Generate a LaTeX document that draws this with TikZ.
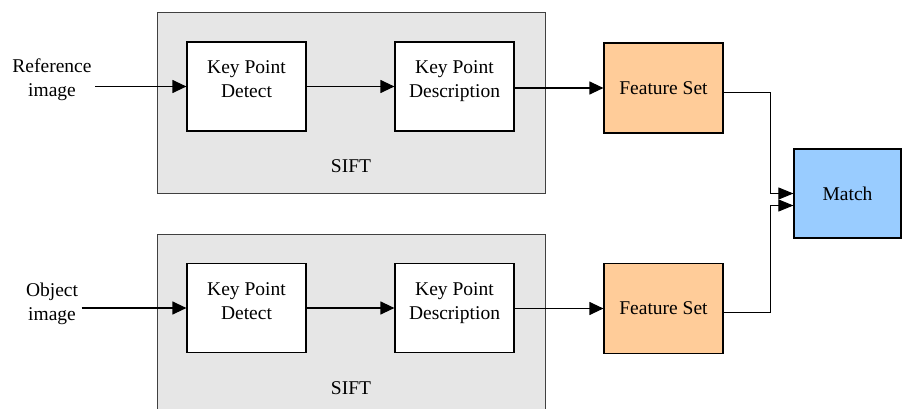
\documentclass[tikz,border=0pt]{standalone}
\usepackage{fontspec}
\setmainfont{Liberation Serif}
\usetikzlibrary{arrows.meta}
\definecolor{siftgray}{HTML}{E6E6E6}
\definecolor{featorange}{HTML}{FFCC99}
\definecolor{matchblue}{HTML}{99CCFF}
\begin{document}
\begin{tikzpicture}[x=1pt, y=-1pt,
    font=\fontsize{19.5}{24}\selectfont,
    siftbox/.style={draw=black!75, fill=siftgray, line width=0.9pt, minimum width=388pt, minimum height=181pt, inner sep=0pt},
    stagebox/.style={draw, fill=white, line width=1.2pt, minimum width=119pt, minimum height=89pt, align=center, text depth=14pt},
    featbox/.style={draw, fill=featorange, line width=1.2pt, minimum width=119pt, minimum height=90pt},
    matchbox/.style={draw, fill=matchblue, line width=1.2pt, minimum width=107pt, minimum height=89pt},
    flow/.style={-{Triangle[length=14pt, width=13pt]}, line width=1.2pt},
    link/.style={-{Triangle[length=15pt, width=12pt]}, line width=0.9pt}]
    \useasboundingbox (0,0) rectangle (902,409);
    % upper branch
    \node[siftbox] (sifta) at (351,102.5) {};
    \node (sifttexta) at (351,166) {SIFT};
    \node[align=center] (refimg) at (52,80) {Reference\\image};
    \node[stagebox] (detecta) at (246.5,86.5) {Key Point\\Detect};
    \node[stagebox] (descra) at (454.5,86.5) {Key Point\\Description};
    \node[featbox] (feata) at (663.5,88) {Feature Set};
    % lower branch
    \node[siftbox] (siftb) at (351.5,324.5) {};
    \node (sifttextb) at (351,388) {SIFT};
    \node[align=center] (objimg) at (52,304) {Object\\image};
    \node[stagebox] (detectb) at (246.5,308) {Key Point\\Detect};
    \node[stagebox] (descrb) at (454.5,308) {Key Point\\Description};
    \node[featbox] (featb) at (663.5,308.5) {Feature Set};
    % matching
    \node[matchbox] (match) at (847.5,193.5) {Match};
    \draw[flow] (refimg.east |- detecta) -- (detecta);
    \draw[flow] (detecta) -- (descra);
    \draw[flow] (descra.east |- feata) -- (feata);
    \draw[flow] (objimg.east |- detectb) -- (detectb);
    \draw[flow] (detectb) -- (descrb);
    \draw[flow] (descrb.east |- featb) -- (featb);
    \draw[link] ([yshift=-4pt]feata.east) -- ++(47,0) |- (match.west);
    \draw[link] ([yshift=-4pt]featb.east) -- ++(47,0) |- ([yshift=-12pt]match.west);
\end{tikzpicture}
\end{document}
